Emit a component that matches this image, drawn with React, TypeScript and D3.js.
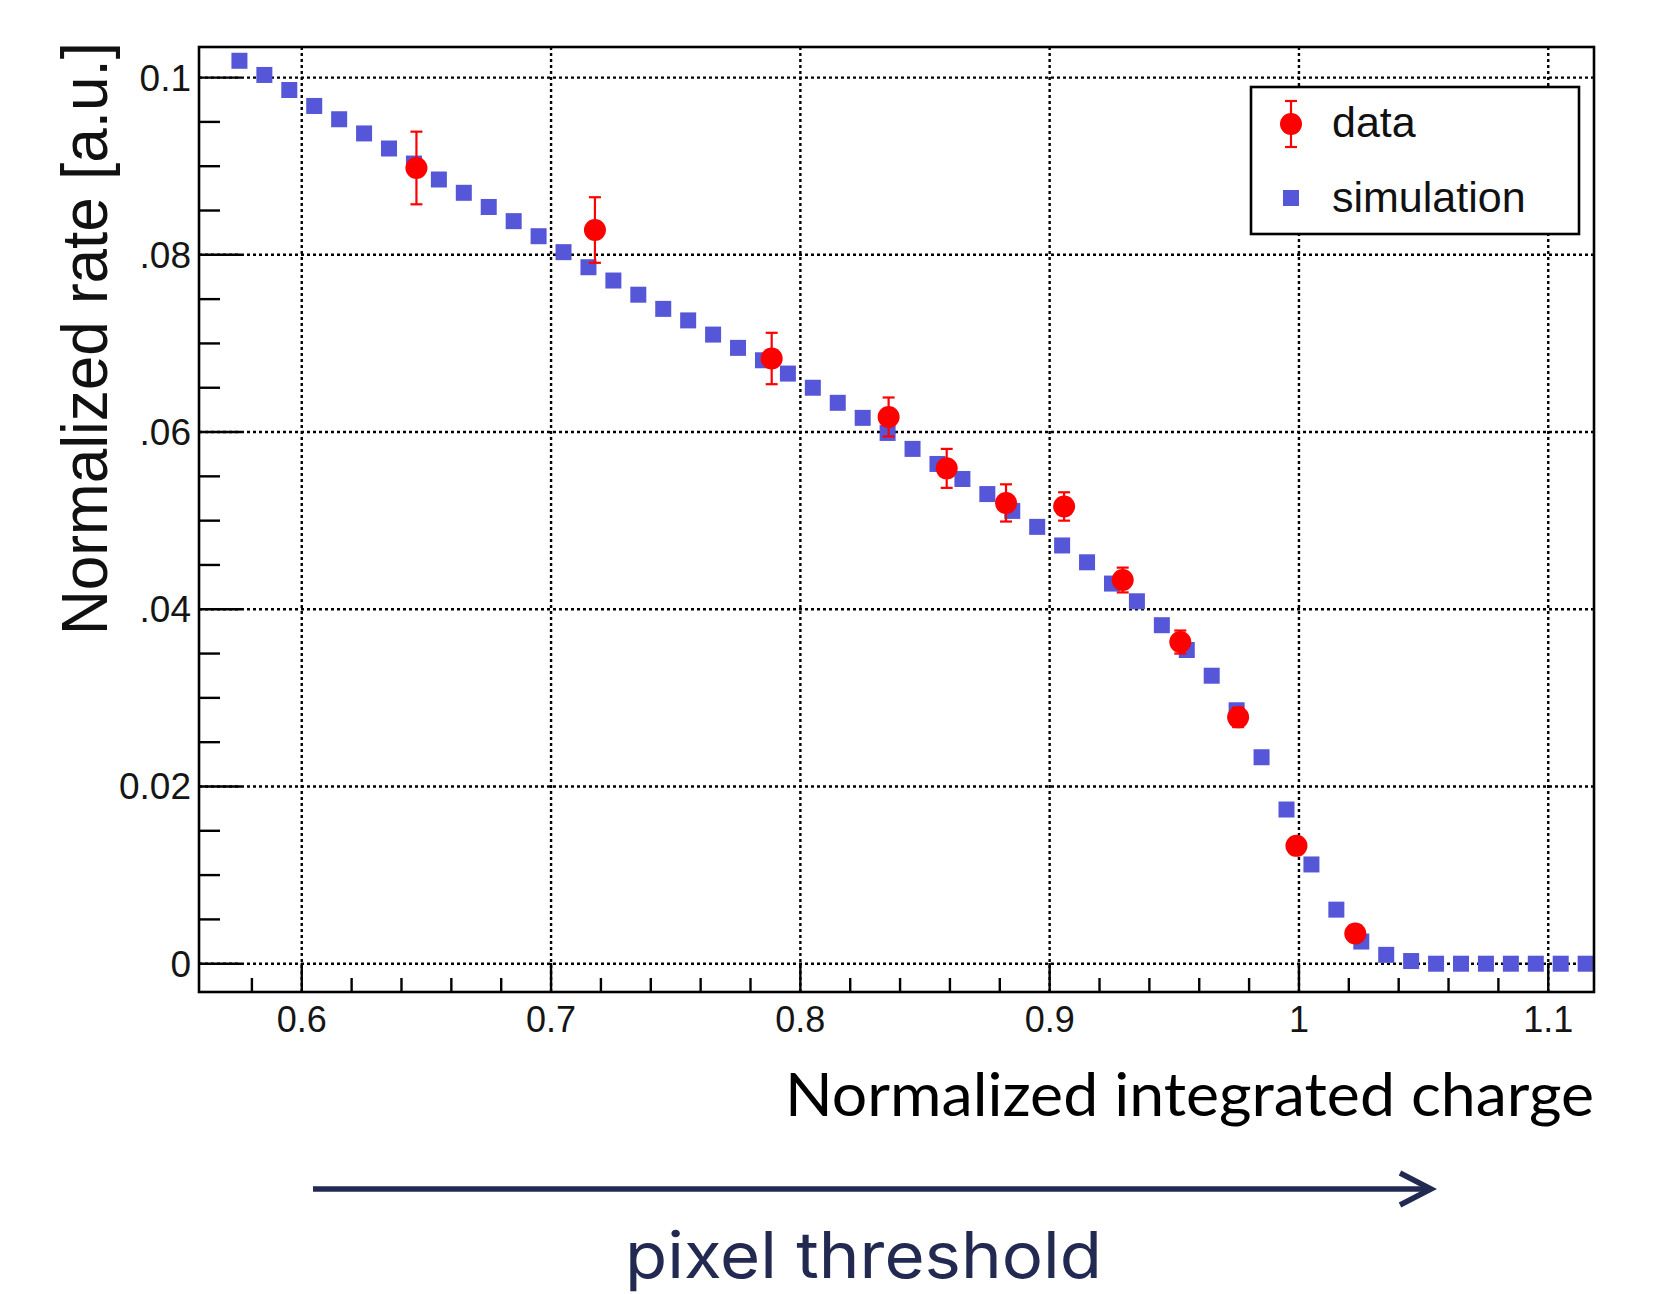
import React from 'react';
import * as d3 from 'd3';

// simulation: bin centres and normalized rate
const simX = [
  0.575, 0.585, 0.595, 0.605, 0.615, 0.625, 0.635, 0.645, 0.655, 0.665,
  0.675, 0.685, 0.695, 0.705, 0.715, 0.725, 0.735, 0.745, 0.755, 0.765,
  0.775, 0.785, 0.795, 0.805, 0.815, 0.825, 0.835, 0.845, 0.855, 0.865,
  0.875, 0.885, 0.895, 0.905, 0.915, 0.925, 0.935, 0.945, 0.955, 0.965,
  0.975, 0.985, 0.995, 1.005, 1.015, 1.025, 1.035, 1.045, 1.055, 1.065,
  1.075, 1.085, 1.095, 1.105, 1.115,
];
const simY = [
  0.1019, 0.1003, 0.0986, 0.0968, 0.0953, 0.0937, 0.092, 0.0903, 0.0885, 0.087,
  0.0854, 0.0838, 0.0821, 0.0803, 0.0786, 0.0771, 0.0755, 0.0739, 0.0726, 0.071,
  0.0695, 0.0681, 0.0666, 0.065, 0.0633, 0.0616, 0.0599, 0.0581, 0.0564, 0.0547,
  0.053, 0.0511, 0.0493, 0.0472, 0.0453, 0.0429, 0.0409, 0.0382, 0.0354, 0.0325,
  0.0286, 0.0233, 0.0174, 0.0112, 0.0061, 0.0025, 0.001, 0.0003, 0, 0,
  0, 0, 0, 0, 0,
];

// measured data with errors
const dataX = [0.646, 0.7176, 0.7885, 0.8354, 0.8587, 0.8825, 0.9058, 0.9293, 0.9524, 0.9756, 0.999, 1.0226];
const dataY = [0.0898, 0.0828, 0.0683, 0.0617, 0.0559, 0.052, 0.0516, 0.0433, 0.0363, 0.0278, 0.0133, 0.0034];
const dataErr = [0.0041, 0.0037, 0.0029, 0.0022, 0.0022, 0.0021, 0.0016, 0.0014, 0.0013, 0.0011, 0.0008, 0.0008];

const xTickValues = [0.6, 0.7, 0.8, 0.9, 1.0, 1.1];
const xTickLabels = ['0.6', '0.7', '0.8', '0.9', '1', '1.1'];
const yTickValues = [0, 0.02, 0.04, 0.06, 0.08, 0.1];
const yTickLabels = ['0', '0.02', '.04', '.06', '.08', '0.1'];
const legendLabels = ['data', 'simulation'];

const W = 1666;
const H = 1294;
const BLUE = '#5656d8';
const RED = '#ff0000';
const NAVY = '#232a52';
const AXIS_FONT = '"Liberation Sans", Arial, sans-serif';

export default function App() {
  const left = 199, right = 1594, top = 47, bottom = 992;

  const x = d3.scaleLinear().domain([0.55878, 1.11835]).range([left, right]);
  const y = d3.scaleLinear().domain([-0.003194, 0.103454]).range([bottom, top]);

  // minor ticks (axis styling only)
  const xMinor = d3.range(28, 56)
    .map((i) => i * 0.02)
    .filter((v) => x(v) > left + 4 && x(v) < right - 2)
    .filter((v) => !xTickValues.some((t) => Math.abs(t - v) < 1e-6));
  const yMinor = d3.range(0, 21)
    .map((i) => i * 0.005)
    .filter((v) => y(v) > top + 2 && y(v) < bottom - 2)
    .filter((v) => !yTickValues.some((t) => Math.abs(t - v) < 1e-6));

  const sq = 16;
  const r = 11;
  const cap = 6;

  return (
    <svg
      width={W}
      height={H}
      viewBox={`0 0 ${W} ${H}`}
      style={{ position: 'absolute', left: 0, top: 0, background: '#fff' }}
    >
      <rect x={0} y={0} width={W} height={H} fill="#fff" />

      {/* grid */}
      <g stroke="#000" strokeWidth={2.4} strokeDasharray="3 3">
        {xTickValues.map((v) => (
          <line key={'gx' + v} x1={x(v)} x2={x(v)} y1={top} y2={bottom} />
        ))}
        {yTickValues.map((v) => (
          <line key={'gy' + v} x1={left} x2={right} y1={y(v)} y2={y(v)} />
        ))}
      </g>

      {/* ticks */}
      <g stroke="#000" strokeWidth={2.4}>
        {xTickValues.map((v) => (
          <line key={'tx' + v} x1={x(v)} x2={x(v)} y1={bottom} y2={bottom - 29} />
        ))}
        {xMinor.map((v) => (
          <line key={'mx' + v} x1={x(v)} x2={x(v)} y1={bottom} y2={bottom - 14} />
        ))}
        {yTickValues.map((v) => (
          <line key={'ty' + v} x1={left} x2={left + 42} y1={y(v)} y2={y(v)} />
        ))}
        {yMinor.map((v) => (
          <line key={'my' + v} x1={left} x2={left + 21} y1={y(v)} y2={y(v)} />
        ))}
      </g>

      {/* tick labels */}
      <g fontFamily={AXIS_FONT} fill="#151515">
        {xTickValues.map((v, i) => (
          <text key={'lx' + v} x={x(v)} y={1032} fontSize={36} textAnchor="middle">
            {xTickLabels[i]}
          </text>
        ))}
        {yTickValues.map((v, i) => (
          <text key={'ly' + v} x={191} y={y(v) + 13} fontSize={37} textAnchor="end">
            {yTickLabels[i]}
          </text>
        ))}
      </g>

      {/* simulation */}
      <g fill={BLUE}>
        {simX.map((v, i) => (
          <rect key={'s' + i} x={x(v) - sq / 2} y={y(simY[i]) - sq / 2} width={sq} height={sq} />
        ))}
      </g>

      {/* data */}
      <g stroke={RED} strokeWidth={2.2}>
        {dataX.map((v, i) => {
          const cx = x(v);
          const y1 = y(dataY[i] + dataErr[i]);
          const y2 = y(dataY[i] - dataErr[i]);
          return (
            <g key={'e' + i}>
              <line x1={cx} x2={cx} y1={y1} y2={y2} />
              <line x1={cx - cap} x2={cx + cap} y1={y1} y2={y1} />
              <line x1={cx - cap} x2={cx + cap} y1={y2} y2={y2} />
            </g>
          );
        })}
      </g>
      <g fill={RED}>
        {dataX.map((v, i) => (
          <circle key={'d' + i} cx={x(v)} cy={y(dataY[i])} r={r} />
        ))}
      </g>

      {/* frame */}
      <rect x={left} y={top} width={right - left} height={bottom - top} fill="none" stroke="#000" strokeWidth={2.6} />

      {/* legend */}
      <rect x={1251} y={87} width={328} height={147} fill="#fff" stroke="#000" strokeWidth={2.6} />
      <g stroke={RED} strokeWidth={2.2}>
        <line x1={1291} x2={1291} y1={101} y2={147} />
        <line x1={1291 - cap} x2={1291 + cap} y1={101} y2={101} />
        <line x1={1291 - cap} x2={1291 + cap} y1={147} y2={147} />
      </g>
      <circle cx={1291} cy={124} r={r} fill={RED} />
      <rect x={1291 - sq / 2} y={198 - sq / 2} width={sq} height={sq} fill={BLUE} />
      <g fontFamily={AXIS_FONT} fontSize={43} fill="#111">
        <text x={1332} y={137}>{legendLabels[0]}</text>
        <text x={1332} y={212}>{legendLabels[1]}</text>
      </g>

      {/* axis titles */}
      <text
        transform="translate(107, 338.5) rotate(-90)"
        textAnchor="middle"
        fontFamily={AXIS_FONT}
        fontSize={64}
        fill="#111"
        textLength={593}
        lengthAdjust="spacingAndGlyphs"
      >
        Normalized rate [a.u.]
      </text>
      <text
        x={785}
        y={1116}
        fontFamily="Lato, 'Open Sans', sans-serif"
        fontSize={60}
        fill="#000"
        textLength={809}
        lengthAdjust="spacingAndGlyphs"
      >
        Normalized integrated charge
      </text>

      {/* threshold arrow */}
      <line x1={313} x2={1428} y1={1189} y2={1189} stroke={NAVY} strokeWidth={5.5} />
      <path d="M1400,1173 L1431,1189 L1400,1205" fill="none" stroke={NAVY} strokeWidth={5.5} strokeLinejoin="miter" />
      <text
        x={625}
        y={1278}
        fontFamily="Inter, 'Noto Sans', sans-serif"
        fontSize={64}
        fill={NAVY}
        textLength={477}
        lengthAdjust="spacingAndGlyphs"
      >
        pixel threshold
      </text>
    </svg>
  );
}
